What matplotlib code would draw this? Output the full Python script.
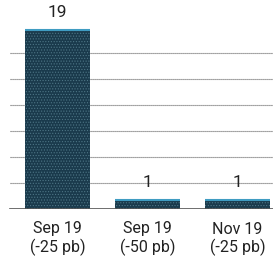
import matplotlib.pyplot as plt

plt.rcParams['font.family'] = ['Roboto', 'DejaVu Sans']
plt.rcParams['hatch.color'] = '#4d7585'
plt.rcParams['hatch.linewidth'] = 0.5

# data
categories = ["Sep 19\n(-25 pb)", "Sep 19\n(-50 pb)", "Nov 19\n(-25 pb)"]
values = [19, 1, 1]

fig = plt.figure(figsize=(2.73, 2.64), dpi=100)
ax = fig.add_axes([0, 55 / 264, 1, 209 / 264])

x = range(len(values))
ax.bar(x, values, width=0.72, color='#1a3a4c', hatch='......',
       linewidth=0, zorder=3)
# lighter top edge of the bars
for xi, v in zip(x, values):
    ax.hlines(v, xi - 0.36, xi + 0.36, color='#3f9cc2', lw=1.5, zorder=4)
    ax.text(xi, v + 1.05, str(v), ha='center', va='bottom',
            fontsize=12.5, color='#222222')

step = 19 * 26 / 179
x0 = 10 / 273
for k in range(1, 7):
    ax.axhline(k * step, xmin=x0, color='#666666', lw=0.8,
               ls=(0, (1, 0.8)), zorder=1)
ax.axhline(0, xmin=x0, color='#555555', lw=1.2, zorder=5)

ax.set_xlim(-57.5 / 90, 215.5 / 90)
ax.set_ylim(0, 19 * 209 / 179)
ax.set_xticks(list(x))
ax.set_xticklabels(categories, fontsize=11.5, color='#222222', linespacing=1.2)
ax.tick_params(axis='x', length=0, pad=9)
ax.set_yticks([])
for s in ax.spines.values():
    s.set_visible(False)

fig.savefig("out.png", dpi=100)
